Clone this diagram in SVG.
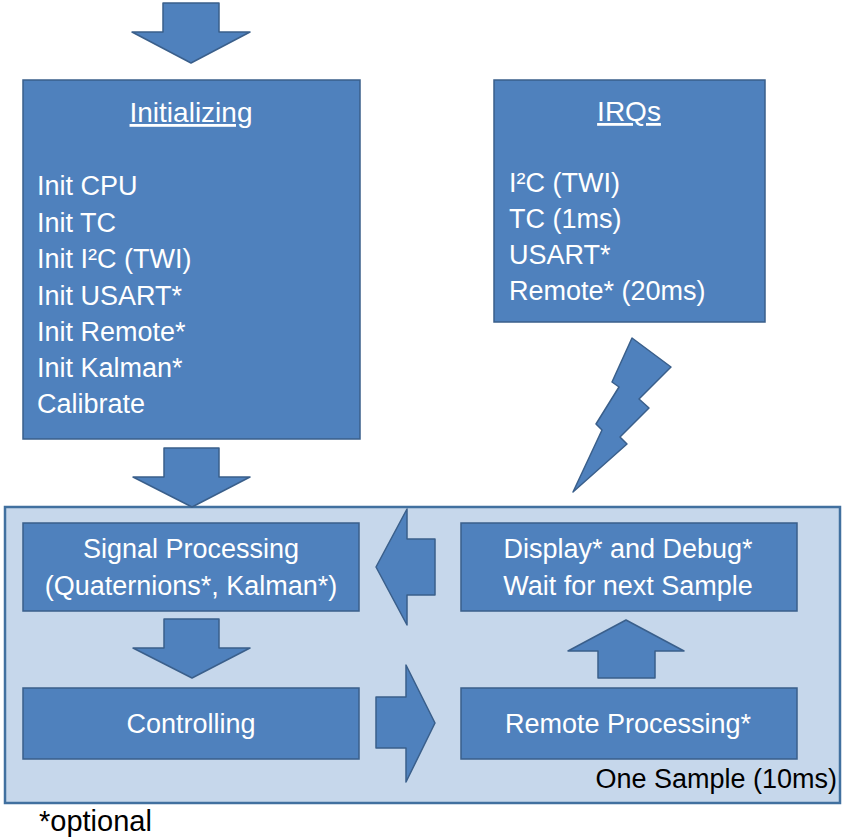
<svg xmlns="http://www.w3.org/2000/svg" width="843" height="839" viewBox="0 0 843 839">
<style>
.box{fill:#4f81bd;stroke:#3a5f8b;stroke-width:1.5}
.arr{fill:#4f81bd;stroke:#3a5f8b;stroke-width:1.5;stroke-linejoin:round}
.t{font-family:"Liberation Sans",Arial,sans-serif;font-size:27px;fill:#ffffff}
.c{text-anchor:middle}
.u{text-decoration:underline}
.h{font-size:28px}
.k{font-family:"Liberation Sans",Arial,sans-serif;font-size:27px;fill:#000000}
.opt{font-size:29px}
</style>
<rect width="843" height="839" fill="#ffffff"/>
<g id="sample-frame">
<rect x="5" y="507" width="835" height="296" fill="#c6d7eb" stroke="#41709f" stroke-width="2.5"/>
<text class="k" x="837" y="788" text-anchor="end">One Sample (10ms)</text>
</g>
<g id="initializing">
<rect class="box" x="23" y="80" width="337" height="359"/>
<text class="t c u h" x="191" y="122">Initializing</text>
<text class="t" x="37" y="195">Init CPU</text>
<text class="t" x="37" y="232">Init TC</text>
<text class="t" x="37" y="268">Init I²C (TWI)</text>
<text class="t" x="37" y="305">Init USART*</text>
<text class="t" x="37" y="341">Init Remote*</text>
<text class="t" x="37" y="377">Init Kalman*</text>
<text class="t" x="37" y="413">Calibrate</text>
</g>
<g id="irqs">
<rect class="box" x="494" y="80" width="271" height="242"/>
<text class="t c u h" x="629" y="121">IRQs</text>
<text class="t" x="509" y="192">I²C (TWI)</text>
<text class="t" x="509" y="228">TC (1ms)</text>
<text class="t" x="509" y="264">USART*</text>
<text class="t" x="509" y="300">Remote* (20ms)</text>
</g>
<g id="signal-processing">
<rect class="box" x="23" y="523" width="336" height="88"/>
<text class="t c" x="191" y="558">Signal Processing</text>
<text class="t c" x="191" y="595">(Quaternions*, Kalman*)</text>
</g>
<g id="display-debug">
<rect class="box" x="461" y="523" width="336" height="88"/>
<text class="t c" x="628" y="558">Display* and Debug*</text>
<text class="t c" x="628" y="595">Wait for next Sample</text>
</g>
<g id="controlling">
<rect class="box" x="23" y="688" width="336" height="71"/>
<text class="t c" x="191" y="733">Controlling</text>
</g>
<g id="remote-processing">
<rect class="box" x="461" y="688" width="336" height="71"/>
<text class="t c" x="628" y="733">Remote Processing*</text>
</g>
<g id="connectors">
<polygon class="arr" points="163,3 219,3 219,32 250,32 191,63 132,32 163,32"/>
<polygon class="arr" points="164,448 219,448 219,477 250,477 192,507 133,477 164,477"/>
<polygon class="arr" points="435,539 435,595 407,595 407,625 376,567 407,509 407,539"/>
<polygon class="arr" points="164,619 219,619 219,648 250,648 192,678 133,648 164,648"/>
<polygon class="arr" points="376,697 406,697 406,665 435,723 406,782 406,748 376,748"/>
<polygon class="arr" points="598,678 655,678 655,651 684,651 626,620 568,651 598,651"/>
<polygon class="arr" points="632,338 671,367 639,399 649,408 620,437 627,444 573,492 602,430 596,424 619,387 612,382"/>
</g>
<text class="k opt" x="39" y="831">*optional</text>
</svg>
